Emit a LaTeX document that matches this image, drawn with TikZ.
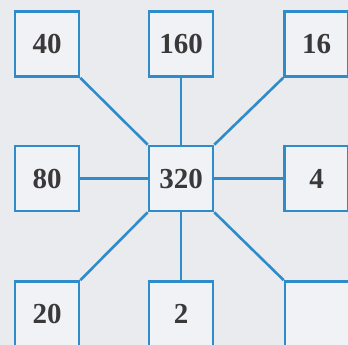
\documentclass[tikz,border=0pt]{standalone}
\usepackage{fontspec}
\setmainfont{Liberation Serif}
\definecolor{bg}{HTML}{E9EBEE}
\definecolor{boxfill}{HTML}{F1F2F5}
\definecolor{blueline}{HTML}{2E8CCB}
\definecolor{txt}{HTML}{3A3838}
\begin{document}
\begin{tikzpicture}[x=1pt,y=-1pt,
  numbox/.style={draw=blueline, fill=boxfill, line width=2.6pt, minimum width=64pt, minimum height=65pt, inner sep=0pt, font=\fontsize{29}{31}\selectfont\bfseries, text=txt},
  link/.style={draw=blueline, line width=2.6pt}]
\fill[bg] (0,0) rectangle (348,345);
\useasboundingbox (0,0) rectangle (348,345);
\clip (0,0) rectangle (348,345);
\node[numbox] (c) at (181,178.5) {320};
\node[numbox] (n40) at (47,44) {40};
\node[numbox] (n160) at (181,44) {160};
\node[numbox] (n16) at (316.5,44) {16};
\node[numbox] (n80) at (47,178.5) {80};
\node[numbox] (n4) at (316.5,178.5) {4};
\node[numbox] (n20) at (47,314) {20};
\node[numbox] (n2) at (181,314) {2};
\node[numbox] (ne) at (317,314) {};
\draw[link] (n40.south east) -- (c.north west);
\draw[link] (n160.south) -- (c.north);
\draw[link] (n16.south west) -- (c.north east);
\draw[link] (n80.east) -- (c.west);
\draw[link] (n4.west) -- (c.east);
\draw[link] (n20.north east) -- (c.south west);
\draw[link] (n2.north) -- (c.south);
\draw[link] (ne.north west) -- (c.south east);
\end{tikzpicture}
\end{document}
